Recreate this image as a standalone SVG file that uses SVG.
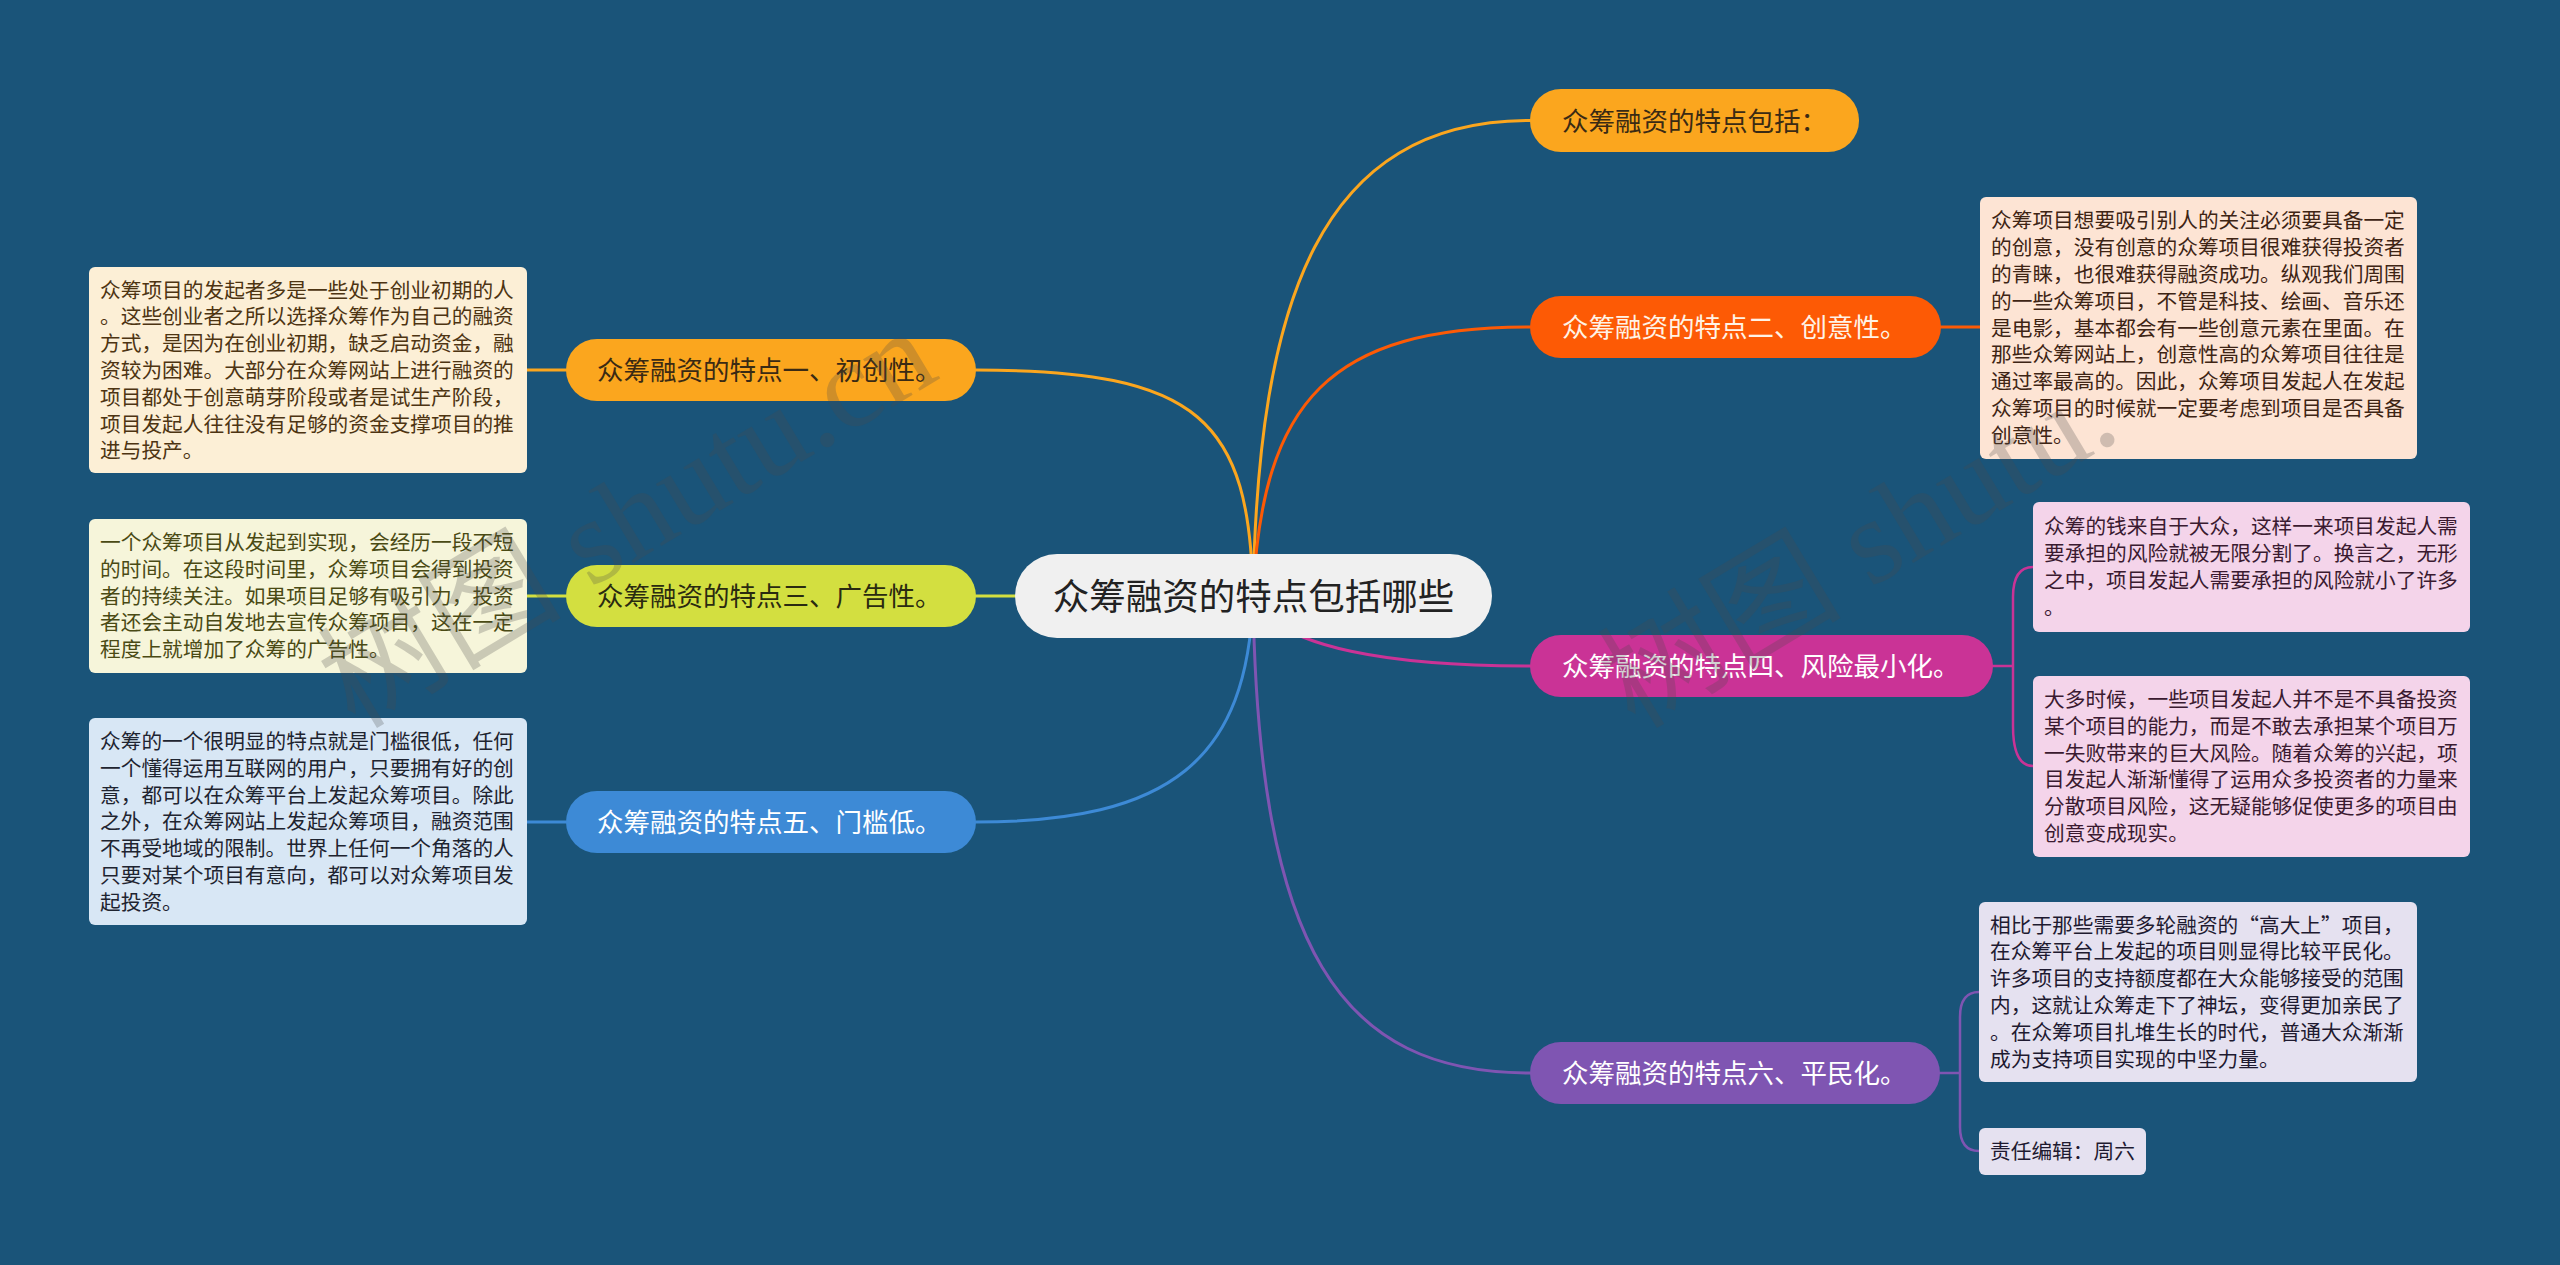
<svg xmlns="http://www.w3.org/2000/svg" width="2560" height="1265" viewBox="0 0 2560 1265">
<style>
.bg{fill:#1a5479}
.cn{font-family:"Noto Sans CJK SC","Liberation Sans",sans-serif}
.main{font-size:26.5px}
.leaf{font-size:20.7px}
.ln{fill:none;stroke-width:3;stroke-linecap:round}
.br{fill:none;stroke-width:2.5;stroke-linecap:round}
.wm{font-family:"Liberation Serif","Noto Sans CJK SC",serif;font-size:122px;fill:#4a4a4a;opacity:0.25}
</style>
<rect class="bg" x="0" y="0" width="2560" height="1265"/>

<g id="connectors">
  <path class="ln" stroke="#fba61e" d="M1253,596 C1258,300 1320,120.5 1530,120.5"/>
  <path class="ln" stroke="#fd5a05" d="M1253,596 C1262,400 1330,327 1530,327"/>
  <path class="ln" stroke="#fd5a05" d="M1941,327 H1980"/>
  <path class="ln" stroke="#fba61e" d="M1253,596 C1250,420 1200,370 976,370"/>
  <path class="ln" stroke="#fba61e" d="M566,370 H527"/>
  <path class="ln" stroke="#d3df40" d="M1253,596 H976"/>
  <path class="ln" stroke="#d3df40" d="M566,596 H527"/>
  <path class="ln" stroke="#3d8ad6" d="M1253,596 C1248,760 1170,822 976,822"/>
  <path class="ln" stroke="#3d8ad6" d="M566,822 H527"/>
  <path class="ln" stroke="#ca3396" d="M1253,596 C1275,650 1400,666 1530,666"/>
  <path class="br" stroke="#ca3396" d="M1993,666 H2013 M2013,666 V597 Q2013,567 2033,567 M2013,666 V726 Q2013,766 2033,766"/>
  <path class="ln" stroke="#7f55b2" d="M1253,596 C1258,950 1340,1073 1530,1073"/>
  <path class="br" stroke="#7f55b2" d="M1940,1073 H1960 M1960,1073 V1017 Q1960,992 1979,992 M1960,1073 V1127 Q1960,1151 1979,1151"/>
</g>

<g id="center">
  <rect x="1015" y="554" width="477" height="84" rx="42" fill="#f0f0f0"/>
  <text class="cn" x="1253.5" y="610" font-size="36.5" fill="#222" text-anchor="middle">众筹融资的特点包括哪些</text>
</g>

<g id="node-top">
  <rect x="1530" y="89" width="329" height="63" rx="31" fill="#fba61e"/>
  <text class="cn main" x="1562" y="131" fill="#3a2a14">众筹融资的特点包括：</text>
</g>
<g id="node-2">
  <rect x="1530" y="296" width="411" height="62" rx="31" fill="#fd5a05"/>
  <text class="cn main" x="1562" y="337" fill="#fff3e6">众筹融资的特点二、创意性。</text>
</g>
<g id="node-1">
  <rect x="566" y="339" width="410" height="62" rx="31" fill="#fba61e"/>
  <text class="cn main" x="597" y="380" fill="#3a2a14">众筹融资的特点一、初创性。</text>
</g>
<g id="node-3">
  <rect x="566" y="565" width="410" height="62" rx="31" fill="#d3df40"/>
  <text class="cn main" x="597" y="606" fill="#2a2a10">众筹融资的特点三、广告性。</text>
</g>
<g id="node-5">
  <rect x="566" y="791" width="410" height="62" rx="31" fill="#3d8ad6"/>
  <text class="cn main" x="597" y="832" fill="#ffffff">众筹融资的特点五、门槛低。</text>
</g>
<g id="node-4">
  <rect x="1530" y="635" width="463" height="62" rx="31" fill="#ca3396"/>
  <text class="cn main" x="1562" y="676" fill="#ffffff">众筹融资的特点四、风险最小化。</text>
</g>
<g id="node-6">
  <rect x="1530" y="1042" width="410" height="62" rx="31" fill="#7f55b2"/>
  <text class="cn main" x="1562" y="1083" fill="#ffffff">众筹融资的特点六、平民化。</text>
</g>

<g id="leaf-1">
  <rect x="89" y="267" width="438" height="206" rx="6" fill="#fcefd6"/>
  <text class="cn leaf" fill="#4d3412">
    <tspan x="100" y="297.5">众筹项目的发起者多是一些处于创业初期的人</tspan>
    <tspan x="100" y="324.3">。这些创业者之所以选择众筹作为自己的融资</tspan>
    <tspan x="100" y="351.1">方式，是因为在创业初期，缺乏启动资金，融</tspan>
    <tspan x="100" y="377.9">资较为困难。大部分在众筹网站上进行融资的</tspan>
    <tspan x="100" y="404.7">项目都处于创意萌芽阶段或者是试生产阶段，</tspan>
    <tspan x="100" y="431.5">项目发起人往往没有足够的资金支撑项目的推</tspan>
    <tspan x="100" y="458.3">进与投产。</tspan>
  </text>
</g>
<g id="leaf-3">
  <rect x="89" y="519" width="438" height="154" rx="6" fill="#f6f5da"/>
  <text class="cn leaf" fill="#4a4a14">
    <tspan x="100" y="549.9">一个众筹项目从发起到实现，会经历一段不短</tspan>
    <tspan x="100" y="576.7">的时间。在这段时间里，众筹项目会得到投资</tspan>
    <tspan x="100" y="603.5">者的持续关注。如果项目足够有吸引力，投资</tspan>
    <tspan x="100" y="630.3">者还会主动自发地去宣传众筹项目，这在一定</tspan>
    <tspan x="100" y="657.1">程度上就增加了众筹的广告性。</tspan>
  </text>
</g>
<g id="leaf-5">
  <rect x="89" y="718" width="438" height="207" rx="6" fill="#d8e7f5"/>
  <text class="cn leaf" fill="#1e2430">
    <tspan x="100" y="749">众筹的一个很明显的特点就是门槛很低，任何</tspan>
    <tspan x="100" y="775.8">一个懂得运用互联网的用户，只要拥有好的创</tspan>
    <tspan x="100" y="802.6">意，都可以在众筹平台上发起众筹项目。除此</tspan>
    <tspan x="100" y="829.4">之外，在众筹网站上发起众筹项目，融资范围</tspan>
    <tspan x="100" y="856.2">不再受地域的限制。世界上任何一个角落的人</tspan>
    <tspan x="100" y="883">只要对某个项目有意向，都可以对众筹项目发</tspan>
    <tspan x="100" y="909.8">起投资。</tspan>
  </text>
</g>
<g id="leaf-2">
  <rect x="1980" y="197" width="437" height="262" rx="6" fill="#fde4d4"/>
  <text class="cn leaf" fill="#3e2414">
    <tspan x="1991" y="228.3">众筹项目想要吸引别人的关注必须要具备一定</tspan>
    <tspan x="1991" y="255.1">的创意，没有创意的众筹项目很难获得投资者</tspan>
    <tspan x="1991" y="281.9">的青睐，也很难获得融资成功。纵观我们周围</tspan>
    <tspan x="1991" y="308.7">的一些众筹项目，不管是科技、绘画、音乐还</tspan>
    <tspan x="1991" y="335.5">是电影，基本都会有一些创意元素在里面。在</tspan>
    <tspan x="1991" y="362.3">那些众筹网站上，创意性高的众筹项目往往是</tspan>
    <tspan x="1991" y="389.1">通过率最高的。因此，众筹项目发起人在发起</tspan>
    <tspan x="1991" y="415.9">众筹项目的时候就一定要考虑到项目是否具备</tspan>
    <tspan x="1991" y="442.7">创意性。</tspan>
  </text>
</g>
<g id="leaf-4a">
  <rect x="2033" y="502" width="437" height="130" rx="6" fill="#f4d4ea"/>
  <text class="cn leaf" fill="#3a1a30">
    <tspan x="2044" y="534.3">众筹的钱来自于大众，这样一来项目发起人需</tspan>
    <tspan x="2044" y="561.1">要承担的风险就被无限分割了。换言之，无形</tspan>
    <tspan x="2044" y="587.9">之中，项目发起人需要承担的风险就小了许多</tspan>
    <tspan x="2044" y="614.7">。</tspan>
  </text>
</g>
<g id="leaf-4b">
  <rect x="2033" y="676" width="437" height="181" rx="6" fill="#f4d4ea"/>
  <text class="cn leaf" fill="#3a1a30">
    <tspan x="2044" y="707">大多时候，一些项目发起人并不是不具备投资</tspan>
    <tspan x="2044" y="733.8">某个项目的能力，而是不敢去承担某个项目万</tspan>
    <tspan x="2044" y="760.6">一失败带来的巨大风险。随着众筹的兴起，项</tspan>
    <tspan x="2044" y="787.4">目发起人渐渐懂得了运用众多投资者的力量来</tspan>
    <tspan x="2044" y="814.2">分散项目风险，这无疑能够促使更多的项目由</tspan>
    <tspan x="2044" y="841">创意变成现实。</tspan>
  </text>
</g>
<g id="leaf-6a">
  <rect x="1979" y="902" width="438" height="180" rx="6" fill="#e5e1f0"/>
  <text class="cn leaf" fill="#1e1a30">
    <tspan x="1990" y="932.5">相比于那些需要多轮融资的“高大上”项目，</tspan>
    <tspan x="1990" y="959.3">在众筹平台上发起的项目则显得比较平民化。</tspan>
    <tspan x="1990" y="986.1">许多项目的支持额度都在大众能够接受的范围</tspan>
    <tspan x="1990" y="1012.9">内，这就让众筹走下了神坛，变得更加亲民了</tspan>
    <tspan x="1990" y="1039.7">。在众筹项目扎堆生长的时代，普通大众渐渐</tspan>
    <tspan x="1990" y="1066.5">成为支持项目实现的中坚力量。</tspan>
  </text>
</g>
<g id="leaf-6b">
  <rect x="1979" y="1128" width="167" height="47" rx="6" fill="#e5e1f0"/>
  <text class="cn leaf" x="1990" y="1159" fill="#1e1a30">责任编辑：周六</text>
</g>

<g id="watermark">
  <text class="wm" transform="translate(355,730) rotate(-31)">树图 shutu.cn</text>
  <text class="wm" transform="translate(1635,730) rotate(-31)">树图 shutu.</text>
</g>
</svg>
